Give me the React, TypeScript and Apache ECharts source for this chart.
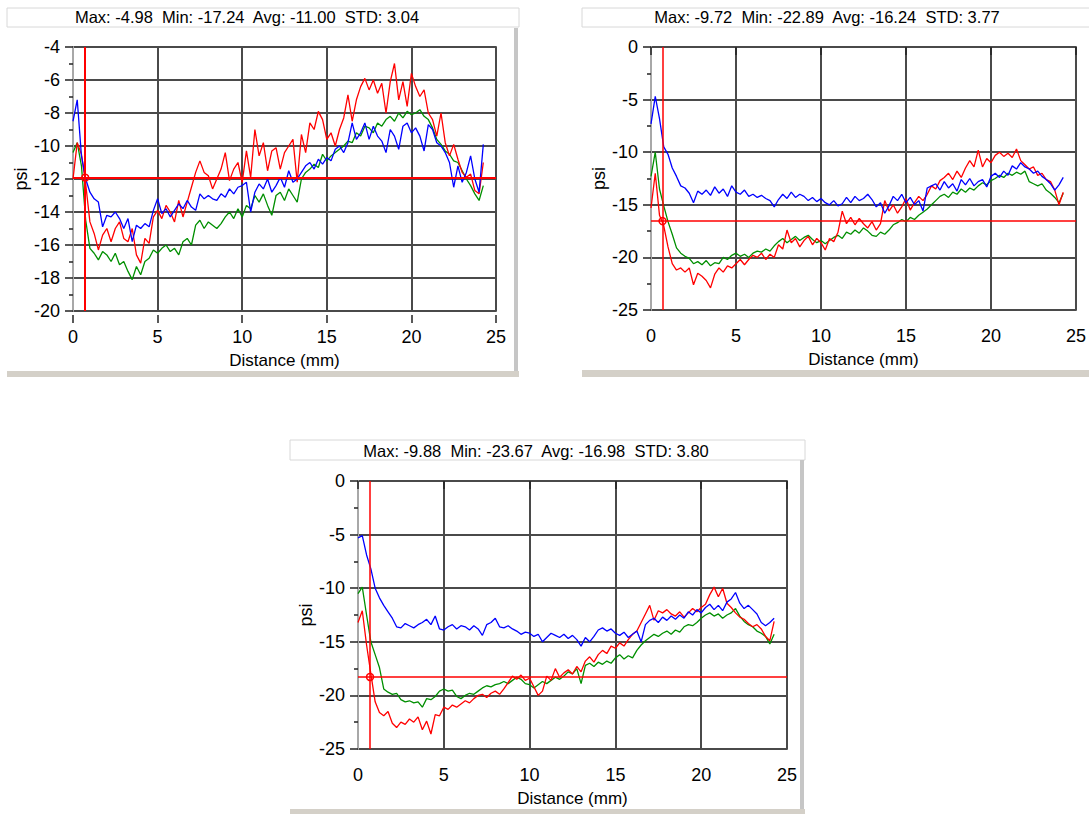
import React, { useEffect, useRef } from "react";
import * as echarts from "echarts";

// Distance sample positions (mm)
const DIST = [
  0, 0.25, 0.5, 0.75, 1, 1.25, 1.5, 1.75,
  2, 2.25, 2.5, 2.75, 3, 3.25, 3.5, 3.75,
  4, 4.25, 4.5, 4.75, 5, 5.25, 5.5, 5.75,
  6, 6.25, 6.5, 6.75, 7, 7.25, 7.5, 7.75,
  8, 8.25, 8.5, 8.75, 9, 9.25, 9.5, 9.75,
  10, 10.25, 10.5, 10.75, 11, 11.25, 11.5, 11.75,
  12, 12.25, 12.5, 12.75, 13, 13.25, 13.5, 13.75,
  14, 14.25, 14.5, 14.75, 15, 15.25, 15.5, 15.75,
  16, 16.25, 16.5, 16.75, 17, 17.25, 17.5, 17.75,
  18, 18.25, 18.5, 18.75, 19, 19.25, 19.5, 19.75,
  20, 20.25, 20.5, 20.75, 21, 21.25, 21.5, 21.75,
  22, 22.25, 22.5, 22.75, 23, 23.25, 23.5, 23.75,
  24, 24.25,
];

// ---- Panel 1 (psi) ----
const P1_BLUE = [
  -8.5, -7.2, -10.6, -12.0, -12.8, -13.2, -13.4, -14.9,
  -14.2, -14.3, -14.0, -14.4, -15.0, -14.4, -15.8, -14.8,
  -15.0, -14.7, -14.9, -13.9, -13.2, -14.1, -13.8, -14.3,
  -13.9, -13.5, -13.8, -13.3, -13.7, -13.9, -12.9, -13.2,
  -13.0, -13.2, -13.3, -12.9, -13.1, -12.6, -12.9, -12.5,
  -12.4, -12.2, -14.0, -12.8, -12.3, -12.6, -12.0, -12.8,
  -12.4, -11.9, -12.5, -11.5, -12.2, -12.0, -11.6, -11.2,
  -11.0, -11.4, -10.8, -11.1, -10.7, -10.9, -10.2, -10.0,
  -10.4, -9.8, -8.6, -9.6, -9.2, -8.6, -9.6, -8.8,
  -9.4, -9.7, -10.4, -9.0, -9.4, -10.2, -8.8, -8.6,
  -9.2, -8.9, -9.4, -10.3, -8.7, -9.0, -9.8, -10.0,
  -10.4, -11.0, -12.5, -11.2, -12.2, -11.6, -10.6, -12.0,
  -12.8, -9.9,
];
const P1_RED = [
  -12.0, -9.8, -10.5, -12.3, -14.6, -15.3, -16.3, -15.4,
  -15.0, -15.8, -15.0, -14.6, -15.6, -15.8, -15.0, -16.6,
  -17.1, -15.6, -15.9, -14.3, -13.9, -14.4, -13.6, -14.0,
  -14.6, -13.3, -14.3, -13.4, -12.5, -11.6, -10.9, -11.6,
  -11.8, -12.6, -12.0, -11.4, -10.4, -12.1, -11.4, -11.0,
  -12.2, -10.3, -11.9, -9.0, -10.6, -9.8, -11.5, -10.3,
  -10.1, -11.4, -10.4, -10.0, -9.6, -12.2, -9.3, -10.4,
  -8.6, -9.0, -7.9, -8.4, -9.6, -9.2, -10.0, -9.0,
  -8.3, -6.9, -8.5, -7.2, -6.4, -5.9, -6.6, -6.0,
  -6.8, -6.2, -8.0, -6.1, -5.0, -7.2, -6.1, -7.6,
  -5.6, -6.4, -7.0, -6.6, -8.0, -8.4, -9.4, -8.0,
  -9.8, -10.6, -9.9, -10.8, -11.6, -11.9, -11.7, -12.7,
  -12.9, -11.0,
];
const P1_GREEN = [
  -10.4, -9.8, -11.2, -14.5, -16.2, -16.5, -16.9, -16.4,
  -16.6, -17.0, -16.5, -17.2, -17.0, -17.6, -18.1, -17.3,
  -17.8, -17.0, -16.8, -16.3, -16.5, -16.2, -16.0, -16.4,
  -16.2, -16.6, -15.8, -15.6, -16.0, -14.8, -14.5, -15.0,
  -14.6, -14.8, -15.0, -14.7, -14.3, -14.0, -14.4, -13.8,
  -14.3, -13.6, -13.8, -13.0, -13.4, -12.9, -13.6, -14.2,
  -13.0, -12.8, -13.3, -12.6, -13.0, -13.4, -12.0, -11.6,
  -11.4, -11.1, -11.3, -10.5, -10.9, -10.6, -10.4, -10.2,
  -10.0, -9.7, -9.8, -9.2, -9.4, -8.8, -8.9, -9.2,
  -8.6, -8.8, -8.4, -8.2, -8.5, -8.0, -8.3, -7.9,
  -8.1, -8.0, -7.8, -8.2, -8.4, -8.9, -9.6, -9.9,
  -10.3, -10.5, -10.9, -11.0, -11.5, -12.0, -12.4, -12.9,
  -13.3, -12.4,
];

// ---- Panel 2 ----
const P2_BLUE = [
  -7.3, -4.7, -6.8, -9.5, -10.2, -11.5, -12.3, -13.2,
  -13.4, -13.9, -14.8, -13.7, -14.0, -13.6, -14.1, -13.3,
  -13.9, -13.5, -14.2, -13.2, -13.8, -14.0, -13.6, -14.2,
  -14.0, -14.3, -14.1, -14.4, -14.6, -15.2, -14.5, -14.0,
  -14.4, -13.8, -14.3, -14.0, -14.2, -14.6, -14.3, -14.7,
  -14.4, -14.8, -15.0, -14.6, -15.1, -14.9, -14.3, -14.8,
  -14.2, -14.6, -14.4, -14.0, -14.5, -15.2, -14.8, -15.8,
  -15.1, -14.2, -14.6, -14.0, -14.8, -14.3, -15.0, -14.6,
  -15.6, -13.4, -13.2, -13.0, -13.6, -12.8, -13.4, -13.0,
  -13.7, -12.6, -13.1, -12.5, -13.2, -12.8, -12.6, -13.3,
  -12.3, -12.0, -12.4, -11.8, -12.2, -11.3, -11.6, -11.0,
  -11.4, -11.6, -12.0, -11.8, -12.3, -12.6, -13.0, -13.6,
  -13.1, -12.4,
];
const P2_RED = [
  -15.3, -12.0, -16.0, -17.0, -19.0, -20.6, -21.2, -21.0,
  -21.4, -21.0, -22.6, -21.5, -21.8, -22.2, -22.9, -21.6,
  -21.0, -21.4, -20.8, -21.0, -20.6, -20.2, -20.7, -20.2,
  -19.8, -20.0, -19.6, -20.2, -19.7, -20.0, -18.8, -19.2,
  -17.4, -18.6, -18.2, -19.0, -18.4, -18.0, -18.8, -18.2,
  -18.6, -19.3, -18.2, -18.5, -17.6, -15.6, -16.8, -16.2,
  -16.9, -16.3, -16.8, -17.2, -16.6, -17.4, -16.8, -14.6,
  -15.6, -15.0, -15.8, -15.2, -14.4, -15.5, -14.8, -14.2,
  -14.6, -14.0, -13.2, -13.5, -12.7, -12.4, -12.0, -12.6,
  -11.8, -12.4, -11.5, -10.8, -11.4, -9.8, -11.4, -10.6,
  -11.0, -10.3, -10.0, -10.4, -10.1, -10.5, -9.7, -10.8,
  -11.2, -11.6, -11.4, -12.2, -12.0, -12.6, -12.8, -13.6,
  -15.0, -13.8,
];
const P2_GREEN = [
  -12.3, -10.0, -13.5, -15.1, -16.6, -17.8, -19.1, -19.6,
  -19.9, -20.1, -20.6, -20.4, -20.7, -20.3, -20.8, -20.5,
  -20.6, -20.0, -20.2, -19.8, -19.6, -19.9, -19.7, -20.0,
  -19.6, -19.4, -19.5, -19.2, -19.4, -18.9, -18.5, -18.2,
  -18.6, -18.3, -18.0, -18.4, -18.1, -17.9, -18.3, -18.6,
  -18.4, -18.7, -18.4, -18.1, -17.9, -18.2, -17.6, -17.8,
  -17.4, -17.7, -17.2, -17.5, -17.9, -18.0, -17.6, -17.8,
  -17.4, -16.9, -16.7, -16.4, -16.6, -16.2, -16.4, -16.0,
  -15.7, -15.4, -15.0, -14.6, -14.2, -14.0, -14.3, -13.8,
  -14.0, -13.5, -13.8, -13.4, -13.6, -13.2, -12.9, -13.1,
  -12.7, -12.5, -12.2, -12.4, -12.0, -12.2, -11.9, -12.1,
  -11.8, -12.8, -13.0, -13.2, -13.0, -13.6, -13.9, -14.3,
  -14.8, -13.9,
];

// ---- Panel 3 ----
const P3_BLUE = [
  -5.3, -5.1, -6.9, -8.2, -10.0, -10.9, -11.6, -12.2,
  -12.8, -13.6, -13.7, -13.3, -13.5, -13.7, -13.4, -13.2,
  -12.9, -13.4, -12.6, -13.8, -13.9, -13.6, -13.4, -13.8,
  -13.5, -13.6, -13.9, -13.5, -13.8, -14.4, -13.4, -13.2,
  -12.8, -13.6, -13.7, -13.5, -13.8, -14.0, -14.3, -14.1,
  -14.2, -14.5, -14.3, -15.0, -14.6, -14.2, -14.4, -14.6,
  -14.3, -14.7, -14.4, -14.8, -15.4, -14.6, -15.0, -14.5,
  -13.9, -13.7, -14.0, -13.8, -14.2, -14.4, -14.1, -14.6,
  -14.3, -14.0, -15.0, -13.4, -13.0, -12.8, -13.2, -12.7,
  -13.0, -12.6, -12.9, -12.5, -12.8, -12.2, -12.5, -12.0,
  -12.3, -11.8, -11.5, -12.0, -11.6, -12.1, -11.3, -11.0,
  -10.4, -11.4, -11.9, -11.6, -12.0, -12.4, -13.2, -13.5,
  -13.2, -12.8,
];
const P3_RED = [
  -13.2, -12.1, -15.3, -18.0, -20.6, -21.6, -21.9, -21.5,
  -22.6, -23.0, -22.5, -22.7, -22.2, -22.5, -22.0, -23.2,
  -22.4, -23.6, -21.8, -21.9, -21.1, -21.3, -20.9, -21.1,
  -20.8, -20.5, -20.7, -20.3, -20.0, -19.9, -20.2, -19.8,
  -19.6, -19.9, -19.4, -18.8, -18.2, -18.5, -18.1, -18.6,
  -18.4, -19.2, -20.0, -19.6, -18.2, -18.6, -17.5, -18.3,
  -17.9, -17.6, -18.0, -17.3, -17.8, -16.8, -16.4, -16.9,
  -16.2, -15.8, -16.1, -15.4, -15.6, -15.1, -15.4, -14.8,
  -14.3, -14.0, -13.2, -12.4, -11.6, -13.0, -12.1, -12.3,
  -12.0, -12.4, -12.6, -12.2, -12.7, -12.3, -11.9, -12.2,
  -11.8, -11.5, -10.6, -9.9, -10.8, -10.0, -11.4, -11.8,
  -12.3, -12.7, -12.9, -13.3, -13.6, -13.4, -13.8, -14.5,
  -14.9, -13.1,
];
const P3_GREEN = [
  -10.5, -9.9, -12.5, -15.0, -16.2, -17.4, -19.4, -19.7,
  -19.9, -19.8, -20.4, -20.6, -20.5, -20.7, -20.6, -21.1,
  -20.3, -20.4, -20.1, -19.6, -19.4, -19.6, -19.5, -20.1,
  -20.3, -20.0, -19.8, -19.9, -19.6, -19.3, -19.1, -19.2,
  -19.0, -18.9, -18.7, -18.9, -18.6, -18.3, -18.5, -18.9,
  -19.0, -19.3, -19.0, -18.7, -18.9, -18.6, -18.3, -18.5,
  -18.2, -17.8, -18.0, -17.5, -18.9, -17.2, -17.0, -17.3,
  -16.9, -17.1, -16.8, -17.0, -16.5, -16.2, -16.6, -16.3,
  -16.5, -15.8, -15.3, -14.9, -14.6, -14.3, -14.5, -14.2,
  -14.0, -14.3, -13.9, -14.1, -13.6, -13.4, -13.5, -13.2,
  -12.8, -12.5, -12.3, -12.6, -12.4, -12.8, -12.5, -12.3,
  -11.9, -12.6, -13.1, -13.4, -13.6, -14.0, -14.2, -14.5,
  -15.2, -14.3,
];

const TITLES = [
  "Max: -4.98  Min: -17.24  Avg: -11.00  STD: 3.04",
  "Max: -9.72  Min: -22.89  Avg: -16.24  STD: 3.77",
  "Max: -9.88  Min: -23.67  Avg: -16.98  STD: 3.80",
];
const CURSOR_X = [0.72, 0.68, 0.7];
const CURSOR_Y = [-11.92, -16.55, -18.28];
const Y_MIN = [-20, -25, -25];
const Y_MAX = [-4, 0, 0];
const Y_STEP = [2, 5, 5];
const X_MIN = 0;
const X_MAX = 25;
const X_STEP = 5;
const X_NAME = "Distance (mm)";
const Y_NAME = "psi";

const PANELS = [
  { blue: P1_BLUE, red: P1_RED, green: P1_GREEN },
  { blue: P2_BLUE, red: P2_RED, green: P2_GREEN },
  { blue: P3_BLUE, red: P3_RED, green: P3_GREEN },
];

const GRIDS = [
  { left: 73, top: 47, width: 423, height: 264 },
  { left: 651, top: 47, width: 427, height: 263 },
  { left: 358, top: 481, width: 429, height: 268 },
];
const TITLE_POS = [
  [247, 17],
  [827, 17],
  [536, 451],
];

const FONT = "Liberation Sans, Arial, sans-serif";

export default function App() {
  const ref = useRef<HTMLDivElement>(null);

  useEffect(() => {
    if (!ref.current) return;
    const chart = echarts.init(ref.current, undefined, { renderer: "svg" });

    const pairs = (ys: number[]) => ys.map((v, i) => [DIST[i], v]);

    const grid = GRIDS.map((g) => ({
      ...g,
      show: true,
      borderColor: "#7c7c7c",
      borderWidth: 2,
      backgroundColor: "#ffffff",
      containLabel: false,
    }));

    const xAxis = GRIDS.map((_, k) => ({
      type: "value",
      gridIndex: k,
      min: X_MIN,
      max: X_MAX,
      interval: X_STEP,
      offset: 4,
      name: X_NAME,
      nameLocation: "middle",
      nameGap: 37,
      nameTextStyle: { fontSize: 17, color: "#000", fontFamily: FONT },
      axisLine: { show: false },
      axisTick: { show: true, length: 8, lineStyle: { color: "#222", width: 1.5 } },
      axisLabel: { fontSize: 18, color: "#000", margin: 13, fontFamily: FONT },
      splitLine: { show: true, lineStyle: { color: "#4a4a4a", width: 2 } },
    }));

    const yAxis = GRIDS.map((_, k) => ({
      type: "value",
      gridIndex: k,
      min: Y_MIN[k],
      max: Y_MAX[k],
      interval: Y_STEP[k],
      offset: 2,
      name: Y_NAME,
      nameLocation: "middle",
      nameGap: 40,
      nameRotate: 90,
      nameTextStyle: { fontSize: 18, color: "#000", fontFamily: FONT },
      axisLine: { show: true, lineStyle: { color: "#a8a8a8", width: 2 } },
      axisTick: { show: true, length: 8, lineStyle: { color: "#222", width: 1.5 } },
      minorTick: { show: true, splitNumber: 2, length: 4, lineStyle: { color: "#222", width: 1.5 } },
      axisLabel: { fontSize: 18, color: "#000", margin: 11, fontFamily: FONT },
      splitLine: { show: true, lineStyle: { color: "#4a4a4a", width: 2 } },
    }));

    const series: any[] = [];
    PANELS.forEach((p, k) => {
      const mk = (name: string, ys: number[], color: string) => ({
        type: "line",
        name,
        xAxisIndex: k,
        yAxisIndex: k,
        data: pairs(ys),
        showSymbol: false,
        symbol: "none",
        lineStyle: { color, width: 1.3 },
        z: 3,
      });
      series.push(mk("green", p.green, "#008f00"));
      series.push(mk("red", p.red, "#ff0000"));
      series.push(mk("blue", p.blue, "#0000ff"));
      series.push({
        type: "line",
        name: "cursor",
        xAxisIndex: k,
        yAxisIndex: k,
        data: [],
        z: 5,
        markLine: {
          silent: true,
          symbol: "none",
          animation: false,
          label: { show: false },
          lineStyle: { color: "#ff0000", width: k === 0 ? 2 : 1.5, type: "solid" },
          data: [{ xAxis: CURSOR_X[k] }, { yAxis: CURSOR_Y[k] }],
        },
        markPoint: {
          silent: true,
          animation: false,
          symbol: "circle",
          symbolSize: 7,
          label: { show: false },
          itemStyle: { color: "rgba(255,255,255,0)", borderColor: "#ff0000", borderWidth: 1.5 },
          data: [{ coord: [CURSOR_X[k], CURSOR_Y[k]] }],
        },
      });
    });

    const frameGray = "#c6c6c6";
    const barGray = "#d4d0c8";
    const graphic: any[] = [
      // Panel 1 frame
      { type: "rect", shape: { x: 7, y: 8, width: 512, height: 19 }, style: { fill: "#fff", stroke: "#d8d8d8", lineWidth: 1 } },
      { type: "rect", shape: { x: 514, y: 28, width: 4, height: 345 }, style: { fill: frameGray } },
      { type: "rect", shape: { x: 7, y: 371, width: 512, height: 6 }, style: { fill: barGray } },
      // Panel 2 frame
      { type: "rect", shape: { x: 582, y: 8, width: 520, height: 19 }, style: { fill: "#fff", stroke: "#d8d8d8", lineWidth: 1 } },
      { type: "rect", shape: { x: 582, y: 370, width: 520, height: 7 }, style: { fill: barGray } },
      // Panel 3 frame
      { type: "rect", shape: { x: 290, y: 440, width: 515, height: 20 }, style: { fill: "#fff", stroke: "#d8d8d8", lineWidth: 1 } },
      { type: "rect", shape: { x: 800, y: 460, width: 4, height: 352 }, style: { fill: frameGray } },
      { type: "rect", shape: { x: 290, y: 809, width: 515, height: 5 }, style: { fill: barGray } },
    ];
    TITLES.forEach((t, k) => {
      graphic.push({
        type: "text",
        x: TITLE_POS[k][0],
        y: TITLE_POS[k][1],
        z: 10,
        style: {
          text: t,
          fontSize: 16.5,
          fontFamily: FONT,
          fill: "#000",
          textAlign: "center",
          textVerticalAlign: "middle",
        },
      });
    });

    chart.setOption({
      animation: false,
      backgroundColor: "#ffffff",
      textStyle: { fontFamily: FONT },
      grid,
      xAxis,
      yAxis,
      series,
      graphic,
    });

    return () => chart.dispose();
  }, []);

  return (
    <div
      ref={ref}
      style={{ position: "fixed", left: 0, top: 0, width: 1089, height: 815, background: "#fff" }}
    />
  );
}
